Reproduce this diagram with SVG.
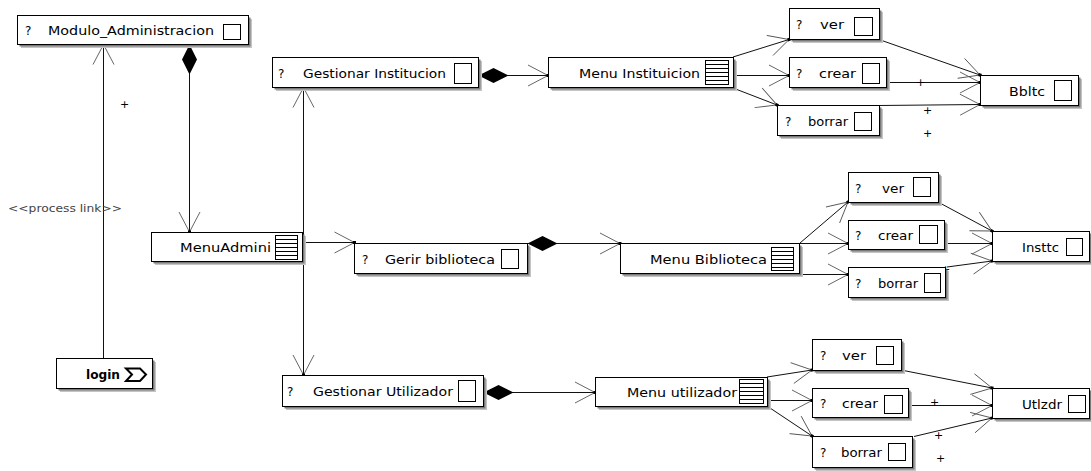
<svg xmlns="http://www.w3.org/2000/svg" width="1091" height="471" viewBox="0 0 1091 471">
  <style>
    .sh1 { fill: #c4c4c4; }
    .sh2 { fill: #7a7a7a; }
    .box { fill: #ffffff; stroke: #000000; stroke-width: 1; }
    .ic { fill: #ffffff; stroke: #000000; stroke-width: 1; }
    .ml { stroke: #000000; stroke-width: 1; }
    .t { font-family: "DejaVu Sans", Verdana, sans-serif; font-size: 12px; fill: #000000; }
    .tb { font-family: "DejaVu Sans", Verdana, sans-serif; font-size: 12px; font-weight: bold; fill: #000000; }
    .st { font-family: "DejaVu Sans", Verdana, sans-serif; font-size: 11px; fill: #444444; }
    .conn { fill: none; stroke: #111111; stroke-width: 1; }
    .arr { marker-end: url(#open); }
    .comp { marker-start: url(#dia); }
    .mult { font-family: "DejaVu Sans", Verdana, sans-serif; font-size: 11px; fill: #000000; }
  </style>
  <defs>
    <!-- open navigable arrowhead with a small anchor dot -->
    <marker id="open" markerUnits="userSpaceOnUse" orient="auto" refX="0" refY="0" markerWidth="1" markerHeight="1" style="overflow:visible">
      <path d="M-20,-10.5 L0,0 L-20,10.5" fill="none" stroke="#555555" stroke-width="0.9"/>
      <rect x="-1.5" y="-1.5" width="3" height="3" fill="#000000"/>
    </marker>
    <!-- filled composition diamond -->
    <marker id="dia" markerUnits="userSpaceOnUse" orient="auto" refX="0" refY="0" markerWidth="1" markerHeight="1" style="overflow:visible">
      <path d="M0,0 L15,-7.5 L30,0 L15,7.5 Z" fill="#000000"/>
    </marker>
  </defs>

  <rect width="1091" height="471" fill="#ffffff"/>

  <!-- connectors -->
  <g id="connectors">
    <path class="conn arr" d="M103.5,358 L103.5,44.5"/>
    <path class="conn comp arr" d="M189.5,44.5 L189.5,232"/>
    <path class="conn arr" d="M303.5,241.5 L303.5,87.5"/>
    <path class="conn arr" d="M303.5,241.5 L303.5,375"/>
    <path class="conn arr" d="M302,242.5 L354.5,242.5"/>
    <path class="conn comp arr" d="M478.5,75.5 L548,75.5"/>
    <path class="conn comp arr" d="M527.5,243.5 L620,243.5"/>
    <path class="conn comp arr" d="M483.5,392.5 L595,392.5"/>

    <path class="conn arr" d="M733,57 L789,39.5"/>
    <path class="conn arr" d="M733,75.5 L789,75.5"/>
    <path class="conn arr" d="M733,88 L777,105"/>
    <path class="conn arr" d="M879,39.5 L980,75"/>
    <path class="conn arr" d="M886,82.5 L980,82.5"/>
    <path class="conn arr" d="M879,105.5 L980,104.5"/>

    <path class="conn arr" d="M800,243 L848,202"/>
    <path class="conn arr" d="M799,243.5 L848,243.5"/>
    <path class="conn arr" d="M799,274.5 L848,274.5"/>
    <path class="conn arr" d="M938,202 L992,231"/>
    <path class="conn arr" d="M944,243.5 L992,243.5"/>
    <path class="conn arr" d="M947,267 L992,261"/>

    <path class="conn arr" d="M767,377 L812,370"/>
    <path class="conn arr" d="M767,400.5 L812,400.5"/>
    <path class="conn arr" d="M767,406 L812,436"/>
    <path class="conn arr" d="M901,370 L992,388"/>
    <path class="conn arr" d="M908,405.5 L992,405.5"/>
    <path class="conn arr" d="M914,436.5 L992,418"/>

    <!-- stereotype and multiplicity labels -->
    <text class="st" x="8" y="212" textLength="114" lengthAdjust="spacingAndGlyphs">&lt;&lt;process link&gt;&gt;</text>
    <text class="mult" x="120" y="108">+</text>
    <text class="mult" x="916" y="86">+</text>
    <text class="mult" x="923" y="114">+</text>
    <text class="mult" x="923" y="137">+</text>
    <text class="mult" x="931" y="231">+</text>
    <text class="mult" x="941" y="273">+</text>
    <text class="mult" x="930" y="406">+</text>
    <text class="mult" x="934" y="439">+</text>
    <text class="mult" x="936" y="462">+</text>
  </g>

  <!-- nodes -->
  <g id="modulo-administracion">
    <rect class="sh1" x="21" y="19" width="231" height="29"/>
    <rect class="sh2" x="19.5" y="17.5" width="231" height="29"/>
    <rect class="box" x="17.5" y="15.5" width="231" height="29"/>
    <text class="t" x="25" y="35">?</text>
    <text class="t" x="48" y="35" textLength="166" lengthAdjust="spacingAndGlyphs">Modulo_Administracion</text>
    <rect class="ic" x="223.5" y="24.5" width="17" height="15"/>
  </g>

  <g id="login">
    <rect class="sh1" x="60" y="362" width="96" height="30"/>
    <rect class="sh2" x="58.5" y="360.5" width="96" height="30"/>
    <rect class="box" x="56.5" y="358.5" width="96" height="30"/>
    <text class="tb" x="86" y="379" textLength="34" lengthAdjust="spacingAndGlyphs">login</text>
    <path d="M126,368.5 L140,368.5 L146,374.5 L140,381 L126,381 L132,374.5 Z" fill="none" stroke="#000000" stroke-width="2" stroke-linejoin="miter"/>
  </g>

  <g id="menu-admini">
    <rect class="sh1" x="155" y="236" width="151" height="29"/>
    <rect class="sh2" x="153.5" y="234.5" width="151" height="29"/>
    <rect class="box" x="151.5" y="232.5" width="151" height="29"/>
    <text class="t" x="180" y="252" textLength="91" lengthAdjust="spacingAndGlyphs">MenuAdmini</text>
    <rect class="ic" x="275.5" y="235.5" width="22" height="24"/>
    <path class="ml" d="M275.5,239.5 H297.5 M275.5,243.5 H297.5 M275.5,247.5 H297.5 M275.5,251.5 H297.5 M275.5,255.5 H297.5"/>
  </g>

  <g id="gestionar-institucion">
    <rect class="sh1" x="276" y="61" width="206" height="30"/>
    <rect class="sh2" x="274.5" y="59.5" width="206" height="30"/>
    <rect class="box" x="272.5" y="57.5" width="206" height="30"/>
    <text class="t" x="278" y="78">?</text>
    <text class="t" x="303" y="78" textLength="143" lengthAdjust="spacingAndGlyphs">Gestionar Institucion</text>
    <rect class="ic" x="454.5" y="63.5" width="17" height="20"/>
  </g>

  <g id="menu-instituicion">
    <rect class="sh1" x="552" y="61" width="185" height="30"/>
    <rect class="sh2" x="550.5" y="59.5" width="185" height="30"/>
    <rect class="box" x="548.5" y="57.5" width="185" height="30"/>
    <text class="t" x="579" y="78" textLength="121" lengthAdjust="spacingAndGlyphs">Menu Instituicion</text>
    <rect class="ic" x="705.5" y="60.5" width="23" height="24"/>
    <path class="ml" d="M705.5,64.5 H728.5 M705.5,68.5 H728.5 M705.5,72.5 H728.5 M705.5,76.5 H728.5 M705.5,80.5 H728.5"/>
  </g>

  <g id="ver-instituicion">
    <rect class="sh1" x="793" y="12" width="90" height="31"/>
    <rect class="sh2" x="791.5" y="10.5" width="90" height="31"/>
    <rect class="box" x="789.5" y="8.5" width="90" height="31"/>
    <text class="t" x="796" y="29">?</text>
    <text class="t" x="820" y="29" textLength="24" lengthAdjust="spacingAndGlyphs">ver</text>
    <rect class="ic" x="854.5" y="17.5" width="18" height="18"/>
  </g>

  <g id="crear-instituicion">
    <rect class="sh1" x="793" y="61" width="97" height="30"/>
    <rect class="sh2" x="791.5" y="59.5" width="97" height="30"/>
    <rect class="box" x="789.5" y="57.5" width="97" height="30"/>
    <text class="t" x="796" y="78">?</text>
    <text class="t" x="819" y="78" textLength="37" lengthAdjust="spacingAndGlyphs">crear</text>
    <rect class="ic" x="862.5" y="63.5" width="17" height="20"/>
  </g>

  <g id="borrar-instituicion">
    <rect class="sh1" x="781" y="109" width="102" height="30"/>
    <rect class="sh2" x="779.5" y="107.5" width="102" height="30"/>
    <rect class="box" x="777.5" y="105.5" width="102" height="30"/>
    <text class="t" x="785" y="126">?</text>
    <text class="t" x="808" y="126" textLength="40" lengthAdjust="spacingAndGlyphs">borrar</text>
    <rect class="ic" x="854.5" y="112.5" width="17" height="18"/>
  </g>

  <g id="bbltc">
    <rect class="sh1" x="984" y="79" width="98" height="30"/>
    <rect class="sh2" x="982.5" y="77.5" width="98" height="30"/>
    <rect class="box" x="980.5" y="75.5" width="98" height="30"/>
    <text class="t" x="1009" y="96" textLength="36" lengthAdjust="spacingAndGlyphs">Bbltc</text>
    <rect class="ic" x="1054.5" y="80.5" width="17" height="20"/>
  </g>

  <g id="gerir-biblioteca">
    <rect class="sh1" x="358" y="247" width="173" height="30"/>
    <rect class="sh2" x="356.5" y="245.5" width="173" height="30"/>
    <rect class="box" x="354.5" y="243.5" width="173" height="30"/>
    <text class="t" x="362" y="264">?</text>
    <text class="t" x="385" y="264" textLength="110" lengthAdjust="spacingAndGlyphs">Gerir biblioteca</text>
    <rect class="ic" x="501.5" y="249.5" width="17" height="19"/>
  </g>

  <g id="menu-biblioteca">
    <rect class="sh1" x="624" y="247" width="179" height="30"/>
    <rect class="sh2" x="622.5" y="245.5" width="179" height="30"/>
    <rect class="box" x="620.5" y="243.5" width="179" height="30"/>
    <text class="t" x="650" y="264" textLength="117" lengthAdjust="spacingAndGlyphs">Menu Biblioteca</text>
    <rect class="ic" x="771.5" y="247.5" width="22" height="23"/>
    <path class="ml" d="M771.5,251.5 H793.5 M771.5,255.5 H793.5 M771.5,259.5 H793.5 M771.5,263.5 H793.5 M771.5,267.5 H793.5"/>
  </g>

  <g id="ver-biblioteca">
    <rect class="sh1" x="852" y="176" width="90" height="30"/>
    <rect class="sh2" x="850.5" y="174.5" width="90" height="30"/>
    <rect class="box" x="848.5" y="172.5" width="90" height="30"/>
    <text class="t" x="855" y="193">?</text>
    <text class="t" x="882" y="193" textLength="22" lengthAdjust="spacingAndGlyphs">ver</text>
    <rect class="ic" x="913.5" y="177.5" width="17" height="19"/>
  </g>

  <g id="crear-biblioteca">
    <rect class="sh1" x="852" y="224" width="96" height="29"/>
    <rect class="sh2" x="850.5" y="222.5" width="96" height="29"/>
    <rect class="box" x="848.5" y="220.5" width="96" height="29"/>
    <text class="t" x="855" y="240">?</text>
    <text class="t" x="878" y="240" textLength="35" lengthAdjust="spacingAndGlyphs">crear</text>
    <rect class="ic" x="919.5" y="225.5" width="18" height="18"/>
  </g>

  <g id="borrar-biblioteca">
    <rect class="sh1" x="852" y="271" width="97" height="30"/>
    <rect class="sh2" x="850.5" y="269.5" width="97" height="30"/>
    <rect class="box" x="848.5" y="267.5" width="97" height="30"/>
    <text class="t" x="855" y="288">?</text>
    <text class="t" x="878" y="288" textLength="40" lengthAdjust="spacingAndGlyphs">borrar</text>
    <rect class="ic" x="924.5" y="273.5" width="16" height="19"/>
  </g>

  <g id="insttc">
    <rect class="sh1" x="996" y="235" width="97" height="30"/>
    <rect class="sh2" x="994.5" y="233.5" width="97" height="30"/>
    <rect class="box" x="992.5" y="231.5" width="97" height="30"/>
    <text class="t" x="1022" y="252" textLength="37" lengthAdjust="spacingAndGlyphs">Insttc</text>
    <rect class="ic" x="1066.5" y="238.5" width="16" height="17"/>
  </g>

  <g id="gestionar-utilizador">
    <rect class="sh1" x="286" y="379" width="201" height="31"/>
    <rect class="sh2" x="284.5" y="377.5" width="201" height="31"/>
    <rect class="box" x="282.5" y="375.5" width="201" height="31"/>
    <text class="t" x="287" y="396">?</text>
    <text class="t" x="313" y="396" textLength="140" lengthAdjust="spacingAndGlyphs">Gestionar Utilizador</text>
    <rect class="ic" x="458.5" y="380.5" width="17" height="21"/>
  </g>

  <g id="menu-utilizador">
    <rect class="sh1" x="599" y="381" width="172" height="29"/>
    <rect class="sh2" x="597.5" y="379.5" width="172" height="29"/>
    <rect class="box" x="595.5" y="377.5" width="172" height="29"/>
    <text class="t" x="627" y="397" textLength="110" lengthAdjust="spacingAndGlyphs">Menu utilizador</text>
    <rect class="ic" x="739.5" y="379.5" width="24" height="24"/>
    <path class="ml" d="M739.5,383.5 H763.5 M739.5,387.5 H763.5 M739.5,391.5 H763.5 M739.5,395.5 H763.5 M739.5,399.5 H763.5"/>
  </g>

  <g id="ver-utilizador">
    <rect class="sh1" x="816" y="343" width="89" height="31"/>
    <rect class="sh2" x="814.5" y="341.5" width="89" height="31"/>
    <rect class="box" x="812.5" y="339.5" width="89" height="31"/>
    <text class="t" x="820" y="360">?</text>
    <text class="t" x="842" y="360" textLength="24" lengthAdjust="spacingAndGlyphs">ver</text>
    <rect class="ic" x="876.5" y="346.5" width="17" height="18"/>
  </g>

  <g id="crear-utilizador">
    <rect class="sh1" x="816" y="392" width="96" height="29"/>
    <rect class="sh2" x="814.5" y="390.5" width="96" height="29"/>
    <rect class="box" x="812.5" y="388.5" width="96" height="29"/>
    <text class="t" x="820" y="408">?</text>
    <text class="t" x="842" y="408" textLength="36" lengthAdjust="spacingAndGlyphs">crear</text>
    <rect class="ic" x="884.5" y="395.5" width="18" height="18"/>
  </g>

  <g id="borrar-utilizador">
    <rect class="sh1" x="816" y="440" width="100" height="31"/>
    <rect class="sh2" x="814.5" y="438.5" width="100" height="31"/>
    <rect class="box" x="812.5" y="436.5" width="100" height="31"/>
    <text class="t" x="820" y="457">?</text>
    <text class="t" x="841" y="457" textLength="41" lengthAdjust="spacingAndGlyphs">borrar</text>
    <rect class="ic" x="888.5" y="443.5" width="17" height="17"/>
  </g>

  <g id="utlzdr">
    <rect class="sh1" x="996" y="392" width="97" height="30"/>
    <rect class="sh2" x="994.5" y="390.5" width="97" height="30"/>
    <rect class="box" x="992.5" y="388.5" width="97" height="30"/>
    <text class="t" x="1022" y="409" textLength="40" lengthAdjust="spacingAndGlyphs">Utlzdr</text>
    <rect class="ic" x="1068.5" y="395.5" width="17" height="17"/>
  </g>
</svg>
